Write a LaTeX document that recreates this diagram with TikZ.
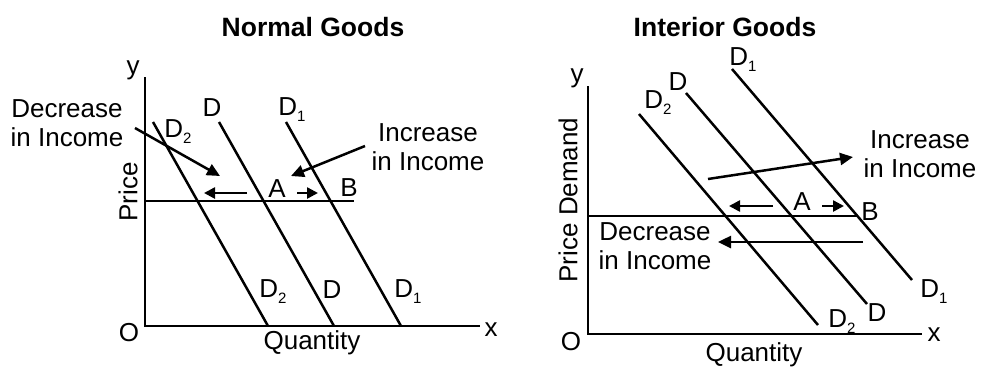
\documentclass[tikz,border=0pt]{standalone}
\usepackage{fontspec}
\setmainfont{Liberation Sans}
\usetikzlibrary{arrows.meta}
\newcommand\subsc[1]{\raisebox{-6pt}{\fontsize{15}{15}\selectfont #1}}
\begin{document}
\begin{tikzpicture}[x=1pt,y=-1pt,
  lbl/.style={inner sep=0pt,font=\fontsize{26}{29}\selectfont},
  ttl/.style={inner sep=0pt,font=\fontsize{26.5}{30}\selectfont\bfseries},
  ln/.style={line width=2.5pt},
  arr/.style={line width=2.5pt,-{Triangle[length=13pt,width=12pt]}},
  sarr/.style={line width=2.5pt,-{Triangle[length=11pt,width=11pt]}}]
\useasboundingbox[fill=white] (0,0) rectangle (983,368);
% ---------- Left: Normal Goods ----------
\node[ttl] (t1) at (313,27) {Normal Goods};
\coordinate (o1) at (145,326);
\coordinate (ytop1) at (145,77);
\coordinate (xend1) at (480,326);
\draw[ln] (ytop1) -- (o1) -- (xend1);
\node[lbl] (y1) at (133,70) {y};
\node[lbl] (x1) at (491,330) {x};
\node[lbl] (O1) at (129,333) {O};
\node[lbl,rotate=90] (p1) at (128,192) {Price};
\node[lbl] (q1) at (312,343) {Quantity};
\coordinate (h1a) at (145,201);
\coordinate (h1b) at (354,201);
\draw[ln] (h1a) -- (h1b);
\coordinate (d2a) at (153,122); \coordinate (d2b) at (268,326);
\coordinate (da) at (219,122);  \coordinate (db) at (334,326);
\coordinate (d1a) at (286,122); \coordinate (d1b) at (401,326);
\draw[ln] (d2a) -- (d2b);
\draw[ln] (da) -- (db);
\draw[ln] (d1a) -- (d1b);
\node[lbl] (lD) at (212,108) {D};
\node[lbl] (lD1) at (292,110) {D\subsc{1}};
\node[lbl] (lD2) at (178,132) {D\subsc{2}};
\node[lbl] (bD2) at (273,292) {D\subsc{2}};
\node[lbl] (bD) at (332,290) {D};
\node[lbl] (bD1) at (408,292) {D\subsc{1}};
\node[lbl,align=center] (dec1) at (67,123) {Decrease\\in Income};
\node[lbl,align=center] (inc1) at (428,147) {Increase\\in Income};
\coordinate (dec1s) at (135,128);
\coordinate (dec1e) at (220,176);
\draw[arr] (dec1s) -- (dec1e);
\coordinate (inc1s) at (365,146);
\coordinate (inc1e) at (291,176);
\draw[arr] (inc1s) -- (inc1e);
\node[lbl] (A1) at (277,189) {A};
\node[lbl] (B1) at (349,188) {B};
\coordinate (la1) at (247,193); \coordinate (lb1) at (204,193);
\coordinate (ra1) at (297,193); \coordinate (rb1) at (318,193);
\draw[sarr] (la1) -- (lb1);
\draw[sarr] (ra1) -- (rb1);
% ---------- Right: Interior Goods ----------
\node[ttl] (t2) at (725,27) {Interior Goods};
\coordinate (o2) at (588,334);
\coordinate (ytop2) at (588,86);
\coordinate (xend2) at (922,334);
\draw[ln] (ytop2) -- (o2) -- (xend2);
\node[lbl] (y2) at (577,78) {y};
\node[lbl] (x2) at (934,335) {x};
\node[lbl] (O2) at (571,342) {O};
\node[lbl,rotate=90] (p2) at (568,200) {Price Demand};
\node[lbl] (q2) at (754,355) {Quantity};
\coordinate (h2a) at (588,216);
\coordinate (h2b) at (857,216);
\draw[ln] (h2a) -- (h2b);
\coordinate (e2a) at (639,114); \coordinate (e2b) at (818,325);
\coordinate (ea) at (686,93);   \coordinate (eb) at (867,304);
\coordinate (e1a) at (732,69);  \coordinate (e1b) at (912,280);
\draw[ln] (e2a) -- (e2b);
\draw[ln] (ea) -- (eb);
\draw[ln] (e1a) -- (e1b);
\node[lbl] (rD2) at (658,103) {D\subsc{2}};
\node[lbl] (rD) at (678,82) {D};
\node[lbl] (rD1) at (743,60) {D\subsc{1}};
\node[lbl] (sD2) at (842,322) {D\subsc{2}};
\node[lbl] (sD) at (877,313) {D};
\node[lbl] (sD1) at (934,292) {D\subsc{1}};
\node[lbl,align=center] (inc2) at (920,154) {Increase\\in Income};
\node[lbl,align=center] (dec2) at (655,246) {Decrease\\in Income};
\coordinate (inc2s) at (708,179);
\coordinate (inc2e) at (853,157);
\draw[arr] (inc2s) -- (inc2e);
\coordinate (dec2s) at (863,242);
\coordinate (dec2e) at (718,242);
\draw[arr] (dec2s) -- (dec2e);
\node[lbl] (A2) at (802,202) {A};
\node[lbl] (B2) at (870,212) {B};
\coordinate (la2) at (773,206); \coordinate (lb2) at (729,206);
\coordinate (ra2) at (822,206); \coordinate (rb2) at (844,206);
\draw[sarr] (la2) -- (lb2);
\draw[sarr] (ra2) -- (rb2);
\end{tikzpicture}
\end{document}
